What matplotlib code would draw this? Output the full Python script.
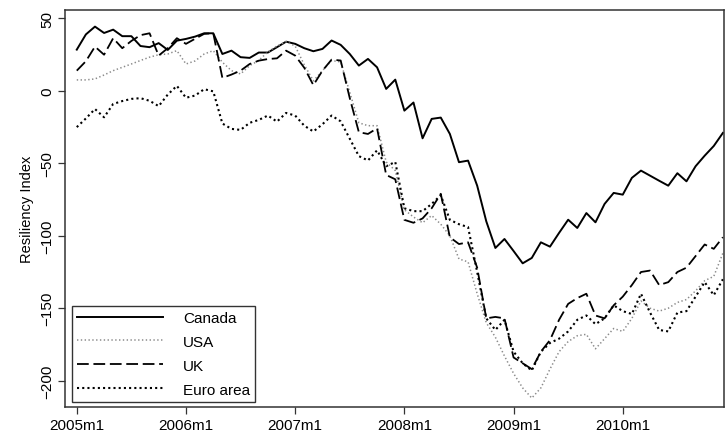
import matplotlib
matplotlib.use("Agg")
import matplotlib.pyplot as plt

plt.rcParams['font.family'] = ['Liberation Sans', 'DejaVu Sans']

# monthly resiliency index, 2005m1 .. 2010m12
canada = [28.5, 39, 44.4, 40, 42.3, 37.8, 37.8, 31, 30.2, 33,
          28.3, 34.7, 35.9, 37.5, 39.8, 39.8, 25.5, 27.8, 23.3, 22.8,
          26.5, 26.5, 30.2, 34, 32.5, 29.5, 27.4, 29, 34.8, 31.8,
          25.5, 17.5, 22.1, 16.3, 1.4, 7.8, -13.6, -8, -32.7, -19.3,
          -18.4, -29.7, -49.2, -48.1, -65.4, -90, -108.4, -102.2, -110.5, -119,
          -115.3, -104.5, -107.5, -98, -88.9, -94.6, -84.3, -90.7, -78, -70.4,
          -71.6, -60, -55, -58.5, -62, -65.4, -56.8, -62.4, -52, -44.7,
          -38, -29]
usa = [7.6, 7.6, 8.3, 11, 14, 16.3, 18.6, 21, 23.3, 25,
       25.5, 27.8, 18.6, 20.7, 25.5, 27.8, 19.8, 14, 11.7, 17.5,
       21, 27, 31, 34, 31, 18, 7, 14, 21, 20,
       -1, -22, -24, -24, -49, -55, -82, -87, -91, -86,
       -92, -100, -116, -118, -140, -160, -170, -183, -195, -205,
       -212, -205, -192, -180, -173, -169, -168, -178, -171, -164,
       -166, -157, -145, -150, -152, -150, -146, -144, -138, -131,
       -128, -112]
uk = [14, 20.5, 30.6, 25, 36.4, 29.5, 34.5, 38.5, 39.8, 24.4,
      29.5, 36.4, 32.5, 36, 39.4, 39.8, 9, 11.3, 14, 18.6,
      20.9, 22, 22.5, 27.8, 24.4, 16, 4, 14, 21.6, 21,
      -5, -28.5, -29.7, -25.8, -58, -61, -89, -91, -88, -81,
      -71, -101, -105.7, -104.5, -122, -157, -156, -157, -184, -188,
      -192, -180, -172, -158, -147, -143, -140, -155, -157, -148,
      -142, -134, -125, -124, -134, -132, -125, -122, -114, -106,
      -109, -101]
euro = [-25, -19, -12.5, -18.2, -9, -7, -5.5, -5, -6.8, -10.5,
        -2.5, 3.5, -4.7, -3.2, 1.2, -0.3, -22.5, -26.2, -26.9, -22,
        -20, -17, -21.2, -15.2, -17, -24, -28, -23, -17, -21,
        -33, -45, -48, -41, -52, -49, -81, -83, -83, -78,
        -72, -89, -92, -94, -125, -157, -165, -158, -180, -188,
        -193, -180, -174, -171, -166, -158, -155, -161, -157, -148,
        -152, -154, -140, -153, -165, -166, -153, -152, -142, -132,
        -141, -130]

tick_pos = [0, 12, 24, 36, 48, 60]
tick_labels = ["2005m1", "2006m1", "2007m1", "2008m1", "2009m1", "2010m1"]
y_ticks = [50, 0, -50, -100, -150, -200]

months = list(range(len(canada)))

fig = plt.figure(figsize=(7.25, 4.35), dpi=100)
ax = fig.add_axes([0.0897, 0.062, 0.909, 0.9135])

ax.plot(months, canada, color='black', lw=1.4, label='Canada')
ax.plot(months, usa, color='#8a8a8a', lw=1.1, dashes=(0.9, 1.6), label='USA')
ax.plot(months, uk, color='black', lw=1.3, dashes=(6.5, 2.6), label='UK')
ax.plot(months, euro, color='black', lw=1.5, dashes=(1.0, 1.5), label='Euro area')

ax.set_xlim(-1.29, 71.13)
ax.set_ylim(-218.2, 56.1)

ax.set_xticks(tick_pos)
ax.set_xticklabels(tick_labels, fontsize=11)
ax.set_yticks(y_ticks)
ax.set_yticklabels([str(v).replace('-', '\u2212') for v in y_ticks],
                   fontsize=11, rotation=90, va='center')
ax.tick_params(direction='out', length=5, width=0.9, color='#333333', pad=3)
ax.set_ylabel("Resiliency Index", fontsize=10.5, labelpad=4)

for s in ax.spines.values():
    s.set_color('#333333')
    s.set_linewidth(1.1)

leg = ax.legend(loc='lower left', bbox_to_anchor=(0.0106, 0.0126),
                borderaxespad=0, fontsize=11, handlelength=5.6,
                handletextpad=1.3, labelspacing=0.65, fancybox=False,
                borderpad=0.35)
leg.get_frame().set_edgecolor('#333333')
leg.get_frame().set_linewidth(1.0)
leg.get_frame().set_alpha(1)

fig.savefig("out.png", dpi=100)
